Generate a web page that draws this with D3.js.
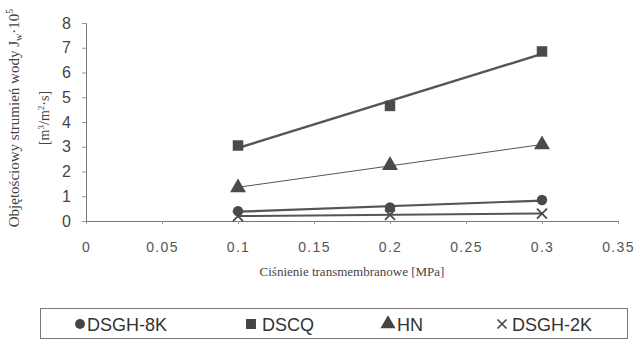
<!DOCTYPE html>
<html>
<head>
<meta charset="utf-8">
<script src="https://cdn.jsdelivr.net/npm/d3@7/dist/d3.min.js"></script>
<style>
  body { margin: 0; background: #fff; }
  svg { display: block; }
</style>
</head>
<body>
<svg id="chart"></svg>
<script>
var svgWidth = 634;
var svgHeight = 340;

// data
var pressures = [0.1, 0.2, 0.3];
var seriesNames = ['DSGH-8K', 'DSCQ', 'HN', 'DSGH-2K'];
var dsgh8k = [0.4, 0.55, 0.85];
var dscq = [3.05, 4.65, 6.85];
var hn = [1.35, 2.25, 3.08];
var dsgh2k = [0.2, 0.25, 0.3];
var xTicks = [0, 0.05, 0.1, 0.15, 0.2, 0.25, 0.3, 0.35];
var yTicks = [0, 1, 2, 3, 4, 5, 6, 7, 8];

var series = [
    {name: seriesNames[0], values: dsgh8k, symbol: d3.symbolCircle, size: 85, lineWidth: 2.2},
    {name: seriesNames[1], values: dscq, symbol: d3.symbolSquare, size: 110, lineWidth: 2.4},
    {name: seriesNames[2], values: hn, symbol: d3.symbolTriangle, size: 110, lineWidth: 1},
    {name: seriesNames[3], values: dsgh2k, symbol: null, size: 0, lineWidth: 2}
];

var svg = d3.select('#chart').attr('width', svgWidth).attr('height', svgHeight);

var xScale = d3.scaleLinear().domain([0, 0.35]).range([86, 618]);
var yScale = d3.scaleLinear().domain([0, 8]).range([221, 23]);

var crossPath = function(r){
    return 'M' + (-r) + ',' + (-r) + 'L' + r + ',' + r + 'M' + (-r) + ',' + r + 'L' + r + ',' + (-r);
};

//axes
var xAxis = d3.axisBottom(xScale).tickValues(xTicks).tickSize(3)
    .tickFormat(function(d){ return String(d); });
var yAxis = d3.axisLeft(yScale).tickValues(yTicks).tickSize(4);

var gx = svg.append('g').attr('transform', 'translate(0,' + yScale(0) + ')').call(xAxis);
gx.select('.domain').attr('stroke', '#777');
gx.selectAll('.tick line').attr('stroke', '#999');
gx.selectAll('.tick text')
    .attr('font-family', 'Liberation Sans, Arial, sans-serif')
    .attr('font-size', 14).attr('letter-spacing', 1.3).attr('fill', '#555').attr('dy', '1.75em');

var gy = svg.append('g').attr('transform', 'translate(' + xScale(0) + ',0)').call(yAxis);
gy.select('.domain').attr('stroke', '#777');
gy.selectAll('.tick line').attr('stroke', '#999');
gy.selectAll('.tick text')
    .attr('font-family', 'Liberation Sans, Arial, sans-serif')
    .attr('font-size', 16).attr('fill', '#444').attr('x', -15);

//trend lines (linear regression of each series)
function fit(vals){
    var mx = d3.mean(pressures), my = d3.mean(vals);
    var num = 0, den = 0;
    pressures.forEach(function(p, i){
        num += (p - mx) * (vals[i] - my);
        den += (p - mx) * (p - mx);
    });
    var b = num / den;
    return function(p){ return my + b * (p - mx); };
}

series.forEach(function(s){
    var f = fit(s.values);
    svg.append('line')
        .attr('x1', xScale(pressures[0])).attr('y1', yScale(f(pressures[0])))
        .attr('x2', xScale(pressures[2])).attr('y2', yScale(f(pressures[2])))
        .attr('stroke', '#555').attr('stroke-width', s.lineWidth);
});

//markers
series.forEach(function(s, k){
    svg.selectAll('.m' + k)
        .data(s.values)
        .enter()
        .append('path')
        .attr('class', 'm' + k)
        .attr('d', s.symbol ? d3.symbol().type(s.symbol).size(s.size) : crossPath(5))
        .attr('transform', function(d, i){
            return 'translate(' + xScale(pressures[i]) + ',' + yScale(d) + ')';
        })
        .attr('fill', s.symbol ? '#4a4a4a' : 'none')
        .attr('stroke', s.symbol ? 'none' : '#4a4a4a')
        .attr('stroke-width', 1.8);
});

//axis titles
svg.append('text')
    .attr('x', 352).attr('y', 276)
    .attr('text-anchor', 'middle')
    .attr('font-family', 'Liberation Serif, Times New Roman, serif')
    .attr('font-size', 13).attr('fill', '#444')
    .text('Ciśnienie transmembranowe [MPa]');

var yt = svg.append('text')
    .attr('transform', 'translate(19,118) rotate(-90)')
    .attr('text-anchor', 'middle')
    .attr('font-family', 'Liberation Serif, Times New Roman, serif')
    .attr('font-size', 15).attr('fill', '#444');
yt.append('tspan').text('Objętościowy strumień wody J');
yt.append('tspan').attr('font-size', 10).attr('dy', 3).text('w');
yt.append('tspan').attr('dy', -3).text('·10');
yt.append('tspan').attr('font-size', 10).attr('dy', -6).text('5');

var yt2 = svg.append('text')
    .attr('transform', 'translate(49,118) rotate(-90)')
    .attr('text-anchor', 'middle')
    .attr('font-family', 'Liberation Serif, Times New Roman, serif')
    .attr('font-size', 14).attr('fill', '#444');
yt2.append('tspan').text('[m');
yt2.append('tspan').attr('font-size', 9).attr('dy', -5).text('3');
yt2.append('tspan').attr('dy', 5).text('/m');
yt2.append('tspan').attr('font-size', 9).attr('dy', -5).text('2');
yt2.append('tspan').attr('dy', 5).text('·s]');

//legend
svg.append('rect')
    .attr('x', 40.5).attr('y', 308.5).attr('width', 587).attr('height', 30)
    .attr('fill', 'none').attr('stroke', '#777').attr('stroke-width', 1);

var legendX = [80, 251, 388, 502];
var legendGap = [7, 11, 9, 10];
series.forEach(function(s, i){
    var g = svg.append('g').attr('transform', 'translate(' + legendX[i] + ',324)');
    if(s.symbol){
        g.append('path').attr('d', d3.symbol().type(s.symbol).size(s.size * 0.9)).attr('fill', '#444');
    } else {
        g.append('path').attr('d', crossPath(4.5))
            .attr('stroke', '#444').attr('stroke-width', 1.6).attr('fill', 'none');
    }
    g.append('text').attr('x', legendGap[i]).attr('y', 6.5)
        .attr('font-family', 'Liberation Sans, Arial, sans-serif')
        .attr('font-size', 18).attr('fill', '#333')
        .text(s.name);
});
</script>
</body>
</html>
